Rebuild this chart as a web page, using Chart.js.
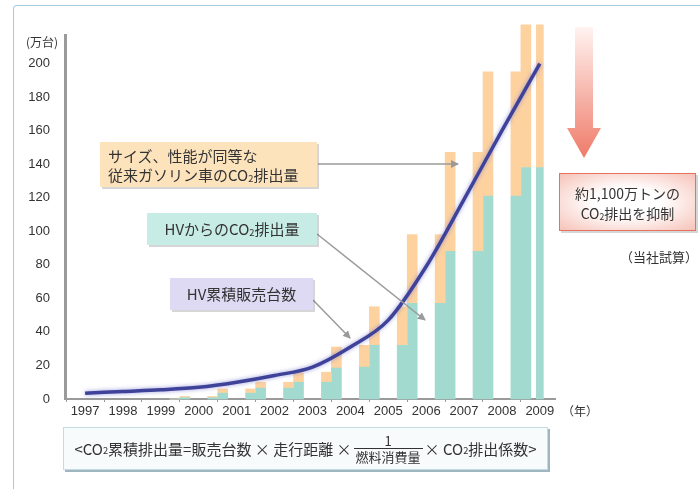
<!DOCTYPE html>
<html lang="ja">
<head>
<meta charset="utf-8">
<script src="https://cdn.jsdelivr.net/npm/chart.js@4"></script>
<style>
  html, body { margin: 0; padding: 0; background: #fff; }
  #wrap { position: relative; width: 700px; height: 489px; overflow: hidden;
          font-family: "Noto Sans CJK JP", "Noto Sans", sans-serif; color: #333; }
  #chart-hv { position: absolute; left: 0; top: 0; }
  .frame { position: absolute; left: 13px; top: 5px; width: 720px; height: 520px;
           border-top: 1.5px solid #a9cbe0; border-left: 1.5px solid #a9cbe0; border-top-left-radius: 4px; }
  .lbl { position: absolute; white-space: nowrap; }
  .note { position: absolute; box-sizing: border-box; font-size: 15px; line-height: 19px;
          white-space: nowrap; box-shadow: 2px 2px 0 rgba(90, 90, 90, 0.25); }
  .s { font-size: 0.62em; position: relative; top: 0.12em; }
  #arrows { position: absolute; left: 0; top: 0; }
  .formula { position: absolute; left: 63px; top: 427px; width: 485px; height: 43px; box-sizing: border-box;
             background: #f7fbfc; border: 1px solid #c3dbe4; box-shadow: 2px 2px 0 #9fb6bf;
             display: flex; align-items: center; justify-content: center; font-size: 15px; white-space: nowrap; }
  .frac { display: inline-flex; flex-direction: column; align-items: center; margin: 0 4px; font-size: 13px; line-height: 15px; }
  .frac span:first-child { border-bottom: 1px solid #333; padding: 0 2px; width: 100%; text-align: center; }
</style>
</head>
<body>
<div id="wrap">
  <div class="frame"></div>
  <canvas id="chart-hv" width="700" height="489"></canvas>

  <svg id="arrows" width="700" height="489">
    <defs>
      <marker id="ah" markerWidth="8" markerHeight="8" refX="7" refY="4" orient="auto" markerUnits="userSpaceOnUse">
        <path d="M0,0 L8,4 L0,8 z" fill="#9a9a9a"></path>
      </marker>
      <linearGradient id="redGrad" x1="0" y1="0" x2="0" y2="1">
        <stop offset="0" stop-color="#fff3f0"></stop>
        <stop offset="1" stop-color="#ef7b69"></stop>
      </linearGradient>
    </defs>
    <line x1="318" y1="164" x2="458" y2="164" stroke="#9a9a9a" stroke-width="1.5" marker-end="url(#ah)"></line>
    <line x1="317" y1="234" x2="425" y2="320" stroke="#9a9a9a" stroke-width="1.5" marker-end="url(#ah)"></line>
    <line x1="313" y1="300" x2="350" y2="338" stroke="#9a9a9a" stroke-width="1.5" marker-end="url(#ah)"></line>
    <path d="M575,27 L593,27 L593,128 L601,128 L584,158 L567,128 L575,128 z" fill="url(#redGrad)"></path>
  </svg>

  <div class="lbl" style="left:26px; top:33px; font-size:12px;">(万台)</div>
  <div class="lbl" style="left:562px; top:402px; font-size:12px;">（年）</div>

  <div class="note" style="left:100px; top:142px; width:217px; height:45px; padding:4px 0 0 8px; background:#fde3bc;">
    サイズ、性能が同等な<br>従来ガソリン車のCO<span class="s">2</span>排出量
  </div>
  <div class="note" style="left:147px; top:213px; width:170px; height:32px; padding-top:6px; text-align:center; background:#c7ebe5;">
    HVからのCO<span class="s">2</span>排出量
  </div>
  <div class="note" style="left:170px; top:278px; width:143px; height:32px; padding-top:6px; text-align:center; background:#dedaf3;">
    HV累積販売台数
  </div>

  <div class="note" style="left:559px; top:173px; width:137px; height:58px; padding-top:9px; text-align:center; font-size:14px; line-height:20px;
       background:radial-gradient(ellipse at center, #ffffff 35%, #f6c2b8 100%); border:1px solid #e5715f;">
    約1,100万トンの<br>CO<span class="s">2</span>排出を抑制
  </div>
  <div class="lbl" style="left:620px; top:247px; font-size:13px;">（当社試算）</div>

  <div class="formula">
    &lt;CO<span class="s">2</span>累積排出量=販売台数 × 走行距離 ×
    <span class="frac"><span>1</span><span>燃料消費量</span></span>
    × CO<span class="s">2</span>排出係数&gt;
  </div>
</div>

<script>
// x軸の年と HV累積販売台数（万台）
const years = [1997, 1998, 1999, 2000, 2001, 2002, 2003, 2004, 2005, 2006, 2007, 2008, 2009];
const hvSales = [3.5, 4.5, 5.5, 7, 10, 14, 19, 31, 47, 79, 119, 160, 200];

// 年の境目に並ぶ棒の組（左 = 前の値、右 = 今の値）
const pairYears = [1999.5, 2000.5, 2001.5, 2002.5, 2003.5, 2004.5, 2005.5, 2006.5, 2007.5, 2008.5];
const gasPrev = [0, 1.5, 6, 10, 16, 32, 55, 98, 147, 195];
const hvPrev = [0, 0.8, 3.5, 6.5, 10, 19, 32, 57, 88, 121];
const gasNow = [1.5, 6, 10, 15.5, 31, 55, 98, 147, 195, 223];
const hvNow = [0.8, 3.5, 6.5, 10, 18.5, 32, 57, 88, 121, 138];

// 2009年の最後の棒
const lastYears = [2009];
const gasLast = [223];
const hvLast = [138];

const yTicks = [0, 20, 40, 60, 80, 100, 120, 140, 160, 180, 200];

const teal = "#a2dad0";
const orange = "#fdd29f";
const tickFont = { family: "'Liberation Sans', Arial, sans-serif", size: 13 };

function pts(xs, ys) {
  return xs.map((x, i) => ({ x: x, y: ys[i] }));
}
function diff(a, b) {
  return a.map((v, i) => v - b[i]);
}

// 線に薄い影をつける
const lineGlow = {
  id: "lineGlow",
  beforeDatasetDraw(chart, args) {
    if (args.meta.type !== "line") return;
    chart.ctx.save();
    chart.ctx.shadowColor = "rgba(130, 130, 210, 0.8)";
    chart.ctx.shadowBlur = 4;
  },
  afterDatasetDraw(chart, args) {
    if (args.meta.type !== "line") return;
    chart.ctx.restore();
  },
};

const barBase = { type: "bar", order: 1, barThickness: 10, clip: false, borderWidth: 0 };

new Chart(document.getElementById("chart-hv").getContext("2d"), {
  data: {
    datasets: [
      {
        type: "line",
        order: 0,
        data: pts(years, hvSales),
        borderColor: "#3f4299",
        borderWidth: 3.5,
        pointRadius: 0,
        cubicInterpolationMode: "monotone",
      },
      { ...barBase, stack: "prev", data: pts(pairYears, hvPrev), backgroundColor: teal },
      { ...barBase, stack: "prev", data: pts(pairYears, diff(gasPrev, hvPrev)), backgroundColor: orange },
      { ...barBase, stack: "now", data: pts(pairYears, hvNow), backgroundColor: teal },
      { ...barBase, stack: "now", data: pts(pairYears, diff(gasNow, hvNow)), backgroundColor: orange },
      { ...barBase, stack: "last", grouped: false, barThickness: 7, maxBarThickness: 7,
        data: pts(lastYears, hvLast), backgroundColor: teal },
      { ...barBase, stack: "last", grouped: false, barThickness: 7, maxBarThickness: 7,
        data: pts(lastYears, diff(gasLast, hvLast)), backgroundColor: orange },
    ],
  },
  options: {
    responsive: false,
    animation: false,
    devicePixelRatio: 1,
    layout: { padding: { left: 0, top: 35, right: 145, bottom: 66 } },
    plugins: { legend: { display: false }, tooltip: { enabled: false } },
    scales: {
      x: {
        type: "linear",
        offset: false,
        min: 1996.47,
        max: 2009.4,
        afterBuildTicks: (s) => {
          s.ticks = years.map((v) => ({ value: v }));
        },
        afterFit: (s) => {
          s.height = 24;
        },
        grid: { offset: true, drawOnChartArea: false, tickLength: 3, color: "#999" },
        border: { color: "#9a9a9a", width: 2 },
        ticks: {
          callback: (v) => String(v),
          autoSkip: false,
          maxRotation: 0,
          padding: 2,
          color: "#333",
          font: tickFont,
        },
      },
      y: {
        stacked: true,
        min: 0,
        max: 217,
        afterBuildTicks: (s) => {
          s.ticks = yTicks.map((v) => ({ value: v }));
        },
        afterFit: (s) => {
          s.width = 65;
        },
        grid: { display: false },
        border: { color: "#9a9a9a", width: 3 },
        ticks: { padding: 7, color: "#333", font: tickFont },
      },
    },
  },
  plugins: [lineGlow],
});
</script>
</body>
</html>
